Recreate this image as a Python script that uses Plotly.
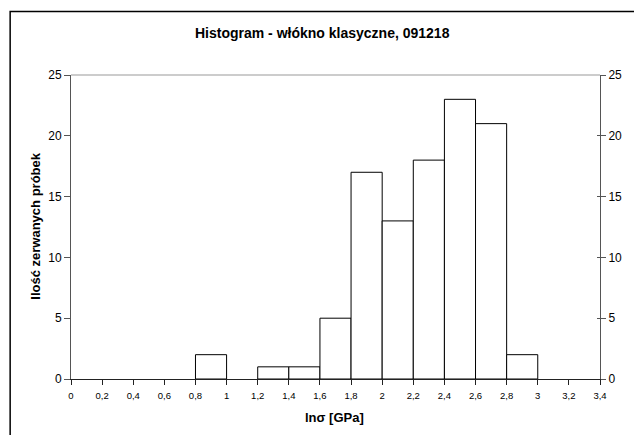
import plotly.graph_objects as go

bin_left = [0.8, 1.2, 1.4, 1.6, 1.8, 2.0, 2.2, 2.4, 2.6, 2.8]
counts = [2, 1, 1, 5, 17, 13, 18, 23, 21, 2]
bin_width = 0.2
x_tickvals = [0, 0.2, 0.4, 0.6, 0.8, 1, 1.2, 1.4, 1.6, 1.8, 2, 2.2, 2.4, 2.6, 2.8, 3, 3.2, 3.4]
x_ticktext = ["0", "0,2", "0,4", "0,6", "0,8", "1", "1,2", "1,4", "1,6", "1,8", "2",
              "2,2", "2,4", "2,6", "2,8", "3", "3,2", "3,4"]
y_tickvals = [0, 5, 10, 15, 20, 25]

centers = [b + bin_width / 2 for b in bin_left]

W, H = 634, 435
L, R, T, B = 71, 24, 75, 56
pw, ph = W - L - R, H - T - B

fig = go.Figure()
fig.add_trace(go.Bar(x=centers, y=counts, width=bin_width,
                     marker=dict(color="white", line=dict(color="black", width=1)),
                     showlegend=False, hoverinfo="x+y"))
fig.add_trace(go.Scatter(x=[0], y=[0], yaxis="y2", mode="markers",
                         marker=dict(opacity=0), showlegend=False, hoverinfo="skip"))
fig.add_trace(go.Scatter(x=[0], y=[0], yaxis="y3", mode="markers",
                         marker=dict(opacity=0), showlegend=False, hoverinfo="skip"))

FONT = "Liberation Sans, Arial"
axfont = dict(family=FONT, size=12, color="black")
fig.update_layout(
    width=W, height=H,
    margin=dict(l=L, r=R, t=T, b=B),
    paper_bgcolor="white", plot_bgcolor="white",
    xaxis=dict(range=[0, 3.4], tickvals=x_tickvals, ticktext=x_ticktext,
               ticks="outside", ticklen=5, tickcolor="#222", showgrid=False,
               showline=True, linecolor="#222", linewidth=1, zeroline=False,
               ticklabelstandoff=3,
               tickfont=dict(family=FONT, size=9.5, color="black")),
    yaxis=dict(range=[0, 25], tickvals=y_tickvals, ticks="outside", ticklen=6,
               tickcolor="#555", showgrid=False, showline=True, linecolor="#555",
               linewidth=1, zeroline=False, tickfont=axfont),
    yaxis2=dict(range=[0, 25], tickvals=y_tickvals, overlaying="y", side="right",
                ticks="outside", ticklen=5, tickcolor="#555", showgrid=False,
                showline=True, linecolor="#555", linewidth=1, zeroline=False,
                tickfont=axfont),
    yaxis3=dict(range=[0, 25], tickvals=y_tickvals, overlaying="y", side="right",
                ticks="inside", ticklen=3, tickcolor="#555", showgrid=False,
                showline=False, showticklabels=False, zeroline=False),
    shapes=[
        dict(type="line", xref="paper", yref="paper", x0=0, x1=1, y0=1, y1=1,
             line=dict(color="#999", width=1)),
        dict(type="rect", xref="paper", yref="paper",
             x0=(9 - L) / pw, x1=1.3, y0=-0.4, y1=1 + (T - 11.5) / ph,
             line=dict(color="black", width=1.5)),
    ],
    annotations=[
        dict(text="<b>Histogram - włókno klasyczne, 091218</b>", xref="paper", yref="paper",
             x=(327 - L) / pw, y=1 + (T - 33) / ph, showarrow=False,
             xanchor="center", yanchor="middle",
             font=dict(family=FONT, size=14, color="black")),
        dict(text="<b>lnσ [GPa]</b>", xref="paper", yref="paper",
             x=(339 - L) / pw, y=-(417 - (T + ph)) / ph, showarrow=False,
             xanchor="center", yanchor="middle",
             font=dict(family=FONT, size=13, color="black")),
        dict(text="<b>Ilość zerwanych próbek</b>", xref="paper", yref="paper",
             x=(34 - L) / pw, y=1 - (226 - T) / ph, showarrow=False, textangle=-90,
             xanchor="center", yanchor="middle",
             font=dict(family=FONT, size=13, color="black")),
    ],
)

fig.write_html("out.html")
